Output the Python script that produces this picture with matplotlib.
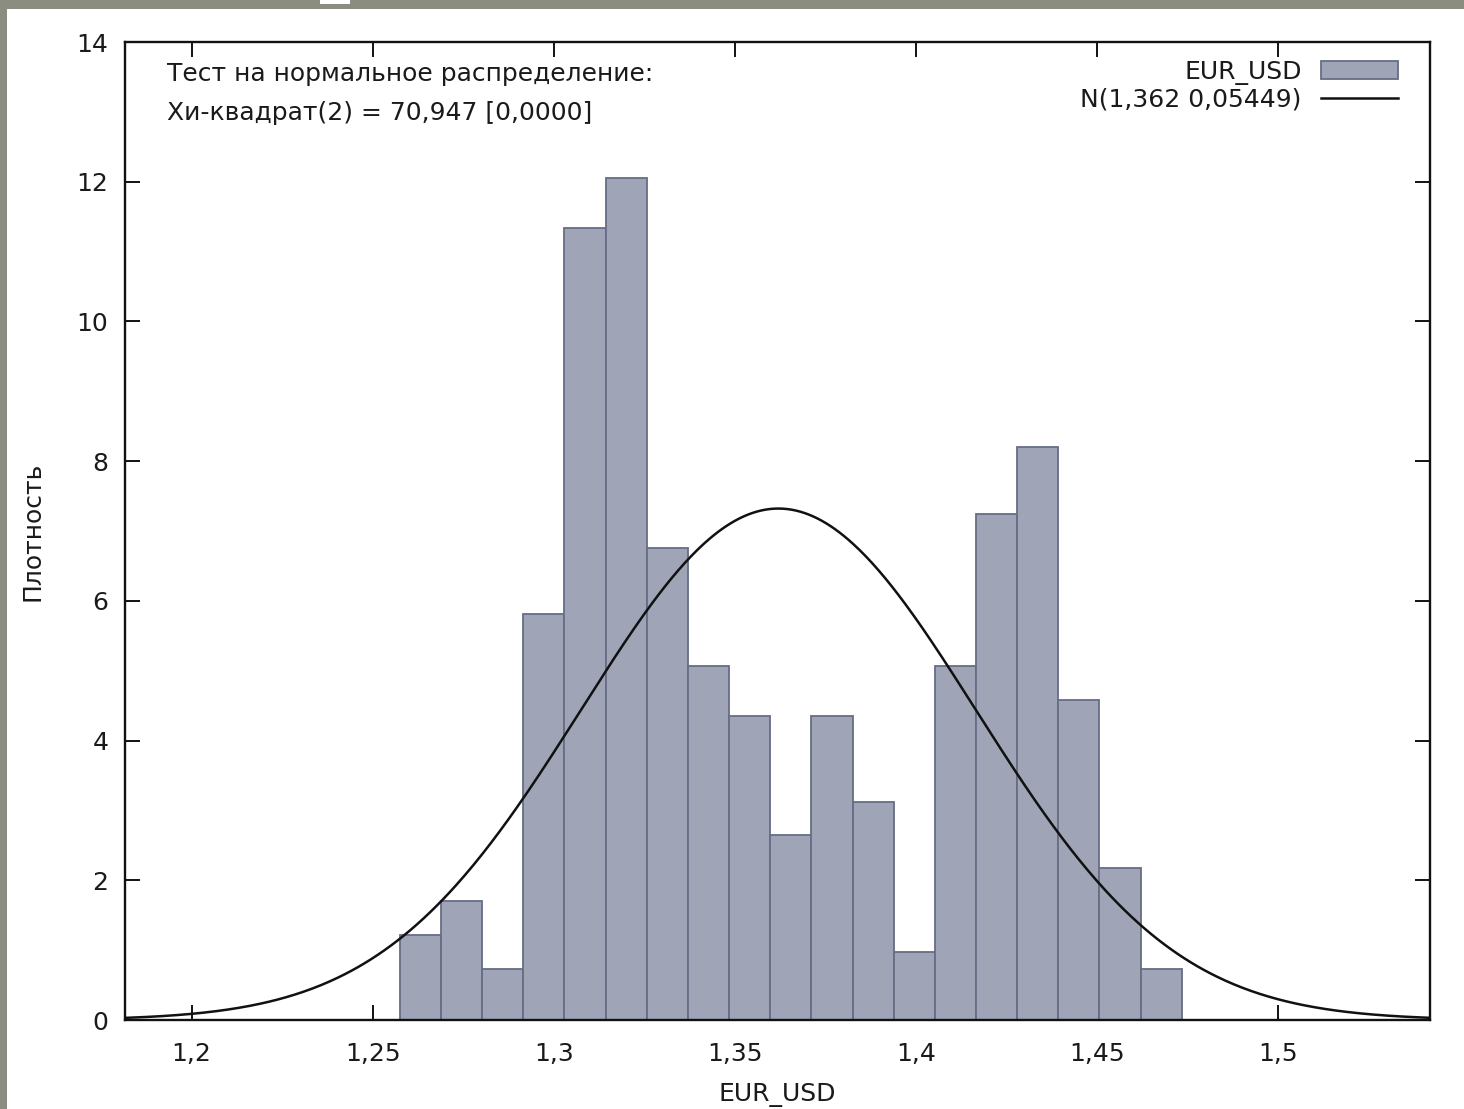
import numpy as np
import matplotlib
matplotlib.use('Agg')
import matplotlib.pyplot as plt
from matplotlib.patches import Rectangle, Patch
from matplotlib.lines import Line2D
from matplotlib.ticker import FuncFormatter

# ---- data ----
bin_left = 1.2575
bin_width = 0.01136
density = [1.22, 1.71, 0.73, 5.81, 11.34, 12.05, 6.76, 5.07, 4.35, 2.65,
           4.35, 3.12, 0.97, 5.07, 7.24, 8.20, 4.58, 2.18, 0.73]
mu = 1.362
sigma = 0.05449
xlim = (1.1816, 1.5419)
ylim = (0, 14)
xticks = [1.2, 1.25, 1.3, 1.35, 1.4, 1.45, 1.5]
yticks = [0, 2, 4, 6, 8, 10, 12, 14]
series_label = "EUR_USD"
curve_label = "N(1,362 0,05449)"
note_lines = ["Тест на нормальное распределение:",
              "Хи-квадрат(2) = 70,947 [0,0000]"]

W, H = 1464, 1109
fig = plt.figure(figsize=(W / 100, H / 100), dpi=100)
fig.patch.set_facecolor('#8a8d7f')
# white panel
fig.patches.append(Rectangle((7 / W, 0), 1 - 7 / W, 1 - 9 / H, transform=fig.transFigure,
                             facecolor='white', edgecolor='none', zorder=-10))
fig.patches.append(Rectangle((320 / W, 1 - 4 / H), 30 / W, 4 / H, transform=fig.transFigure,
                             facecolor='white', edgecolor='none', zorder=-10))

TXT = '#1a1a1a'
FS = 18
ax = fig.add_axes([125 / W, 1 - 1020 / H, (1430 - 125) / W, (1020 - 42) / H])
ax.set_facecolor('white')

edges = bin_left + bin_width * np.arange(len(density))
ax.bar(edges, density, width=bin_width, align='edge', color='#9fa5b7',
       edgecolor='#666d85', linewidth=1.3, zorder=2)

xs = np.linspace(xlim[0], xlim[1], 600)
pdf = np.exp(-0.5 * ((xs - mu) / sigma) ** 2) / (sigma * np.sqrt(2 * np.pi))
ax.plot(xs, pdf, color='#111111', lw=1.8, zorder=3)

ax.set_xlim(*xlim)
ax.set_ylim(*ylim)
ax.set_xticks(xticks)
ax.set_yticks(yticks)
fmt = FuncFormatter(lambda v, p: ('%g' % v).replace('.', ','))
ax.xaxis.set_major_formatter(fmt)
ax.yaxis.set_major_formatter(fmt)
ax.tick_params(direction='in', length=10.5, width=1.4, top=True, right=True,
               labelsize=FS, colors='#111111', labelcolor=TXT)
ax.tick_params(axis='x', pad=16)
ax.tick_params(axis='y', pad=12)
for s in ax.spines.values():
    s.set_linewidth(1.7)
    s.set_color('#111111')

ax.set_xlabel(series_label, fontsize=FS, color=TXT)
ax.xaxis.set_label_coords(0.5, -(1095 - 1020) / (1020 - 42), transform=ax.transAxes)
ax.xaxis.label.set_va('center')
ax.set_ylabel('Плотность', fontsize=FS, color=TXT)
ax.yaxis.set_label_coords(-(125 - 32) / (1430 - 125), 0.5, transform=ax.transAxes)
ax.yaxis.label.set_va('center')

fig.text(167 / W, 1 - 74 / H, note_lines[0], fontsize=FS, color=TXT, va='center', ha='left')
fig.text(167 / W, 1 - 113 / H, note_lines[1], fontsize=FS, color=TXT, va='center', ha='left')

handles = [Patch(facecolor='#9fa5b7', edgecolor='#666d85', linewidth=1.3),
           Line2D([], [], color='#111111', lw=1.8)]
leg = ax.legend(handles, [series_label, curve_label], loc='upper right', markerfirst=False,
                frameon=False, fontsize=FS, handlelength=3.1, handleheight=0.7,
                handletextpad=0.75, labelspacing=0.12, borderaxespad=0.4,
                bbox_to_anchor=(1 - 12 / 1305, 1 + 2 / 978))
for t in leg.get_texts():
    t.set_color(TXT)

fig.savefig('out.png', dpi=100, facecolor=fig.get_facecolor())
